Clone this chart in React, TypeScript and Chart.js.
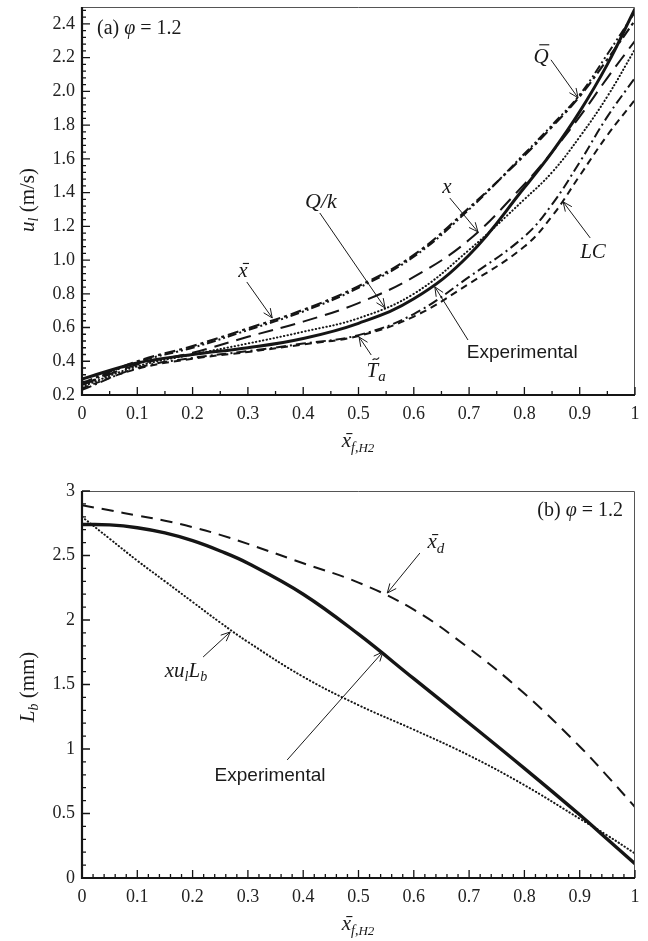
import React, { useEffect, useRef } from 'react';
import { Chart, registerables } from 'chart.js';

Chart.register(...registerables);

// ---------------- data ----------------
// Panel (a): laminar burning velocity u_l (m/s) vs mean H2 fuel fraction
const X_TOP = [0, 0.1, 0.2, 0.3, 0.4, 0.5, 0.6, 0.7, 0.8, 0.85, 0.9, 0.95, 1.0];
const UL_EXPERIMENTAL = [0.295, 0.39, 0.44, 0.48, 0.535, 0.625, 0.77, 1.03, 1.43, 1.64, 1.88, 2.16, 2.49];
const UL_XBAR = [0.27, 0.40, 0.49, 0.595, 0.705, 0.845, 1.03, 1.31, 1.62, 1.79, 1.97, 2.19, 2.42];
const UL_QBAR = [0.26, 0.395, 0.48, 0.585, 0.695, 0.835, 1.02, 1.30, 1.63, 1.80, 1.98, 2.22, 2.47];
const UL_X = [0.26, 0.38, 0.45, 0.545, 0.635, 0.745, 0.90, 1.12, 1.45, 1.64, 1.85, 2.08, 2.30];
const UL_QK = [0.25, 0.37, 0.44, 0.505, 0.575, 0.655, 0.80, 1.06, 1.36, 1.52, 1.73, 1.97, 2.25];
const UL_TA = [0.23, 0.36, 0.42, 0.46, 0.505, 0.555, 0.68, 0.90, 1.14, 1.33, 1.58, 1.85, 2.08];
const UL_LC = [0.24, 0.355, 0.415, 0.455, 0.50, 0.55, 0.665, 0.86, 1.08, 1.26, 1.50, 1.74, 1.95];

// Panel (b): Markstein length L_b (mm)
const X_BOTTOM = [0, 0.05, 0.1, 0.15, 0.2, 0.25, 0.3, 0.4, 0.5, 0.6, 0.7, 0.8, 0.9, 0.95, 1.0];
const LB_EXPERIMENTAL = [2.74, 2.737, 2.715, 2.675, 2.615, 2.535, 2.44, 2.20, 1.89, 1.545, 1.20, 0.85, 0.49, 0.30, 0.11];
const LB_XD = [2.89, 2.85, 2.81, 2.77, 2.72, 2.66, 2.59, 2.44, 2.29, 2.08, 1.78, 1.43, 1.02, 0.79, 0.55];
const LB_XULB = [2.80, 2.63, 2.46, 2.30, 2.14, 1.98, 1.83, 1.56, 1.34, 1.15, 0.95, 0.72, 0.46, 0.33, 0.19];

// tick labels
const X_TICK_LABELS = ['0', '0.1', '0.2', '0.3', '0.4', '0.5', '0.6', '0.7', '0.8', '0.9', '1'];
const Y_TOP_TICK_LABELS = ['0.2', '0.4', '0.6', '0.8', '1.0', '1.2', '1.4', '1.6', '1.8', '2.0', '2.2', '2.4'];
const Y_BOTTOM_TICK_LABELS = ['0', '0.5', '1', '1.5', '2', '2.5', '3'];

// ---------------- helpers ----------------
const SERIF = '"Liberation Serif", "Times New Roman", Times, serif';
const SANS = '"Liberation Sans", Arial, Helvetica, sans-serif';
const INK = '#151515';

type Seg = { t: string; it?: boolean; s: number; dy?: number; bar?: number; tilde?: number; sans?: boolean };
type Label = { x: number; y: number; segs: Seg[]; align?: 'left' | 'center' | 'right' };
type Arrow = { x1: number; y1: number; x2: number; y2: number };

function fontOf(g: Seg) {
  return `${g.it ? 'italic ' : ''}${g.s}px ${g.sans ? SANS : SERIF}`;
}

function drawSegs(ctx: CanvasRenderingContext2D, segs: Seg[], x: number, y: number, align: 'left' | 'center' | 'right') {
  ctx.save();
  ctx.textBaseline = 'alphabetic';
  ctx.textAlign = 'left';
  ctx.fillStyle = '#1a1a1a';
  ctx.strokeStyle = '#1a1a1a';
  const ws = segs.map((g) => {
    ctx.font = fontOf(g);
    return ctx.measureText(g.t).width;
  });
  const total = ws.reduce((a, b) => a + b, 0);
  let cx = align === 'center' ? x - total / 2 : align === 'right' ? x - total : x;
  segs.forEach((g, i) => {
    ctx.font = fontOf(g);
    const by = y + (g.dy || 0);
    ctx.fillText(g.t, cx, by);
    const w = ws[i];
    const sk = g.it ? g.s * 0.12 : 0;
    if (g.bar) {
      const h = by - g.s * g.bar;
      ctx.lineWidth = Math.max(1, g.s * 0.055);
      ctx.beginPath();
      ctx.moveTo(cx + w * 0.22 + sk, h);
      ctx.lineTo(cx + w * 0.88 + sk, h);
      ctx.stroke();
    }
    if (g.tilde) {
      const ty = by - g.s * g.tilde;
      const tx0 = cx + w * 0.3 + sk;
      const tw = w * 0.55;
      ctx.lineWidth = 1.2;
      ctx.beginPath();
      ctx.moveTo(tx0, ty + 1.2);
      ctx.bezierCurveTo(tx0 + tw * 0.3, ty - 2.6, tx0 + tw * 0.6, ty + 3.2, tx0 + tw, ty - 1.4);
      ctx.stroke();
    }
    cx += w;
  });
  ctx.restore();
}

function drawArrow(ctx: CanvasRenderingContext2D, x1: number, y1: number, x2: number, y2: number) {
  const ang = Math.atan2(y2 - y1, x2 - x1);
  const L = 10;
  const sp = 0.42;
  ctx.save();
  ctx.strokeStyle = '#1a1a1a';
  ctx.lineWidth = 1;
  ctx.beginPath();
  ctx.moveTo(x1, y1);
  ctx.lineTo(x2, y2);
  ctx.moveTo(x2 - L * Math.cos(ang - sp), y2 - L * Math.sin(ang - sp));
  ctx.lineTo(x2, y2);
  ctx.lineTo(x2 - L * Math.cos(ang + sp), y2 - L * Math.sin(ang + sp));
  ctx.stroke();
  ctx.restore();
}

type Decor = {
  xMinor: number;
  xMajor: number;
  yMinor: number;
  yMajor: number;
  labels: Label[];
  arrows: Arrow[];
  panel: { segs: Seg[]; dx: number; dy: number; align: 'left' | 'right' };
  yTitle: { segs: Seg[]; cx: number; cy: number };
  xTitle: { segs: Seg[]; cx: number; by: number };
};

function makeDecor(spec: Decor) {
  return {
    id: 'decor',
    afterDatasetsDraw(chart: any) {
      const ctx: CanvasRenderingContext2D = chart.ctx;
      const a = chart.chartArea;
      const xs = chart.scales.x;
      const ys = chart.scales.y;
      ctx.save();
      // thin top/right frame
      ctx.strokeStyle = '#555';
      ctx.lineWidth = 1;
      ctx.beginPath();
      ctx.moveTo(a.left, a.top + 0.5);
      ctx.lineTo(a.right - 0.5, a.top + 0.5);
      ctx.lineTo(a.right - 0.5, a.bottom);
      ctx.stroke();

      // inward ticks
      ctx.strokeStyle = INK;
      ctx.lineWidth = 1.3;
      ctx.beginPath();
      const nx = Math.floor((xs.max - xs.min) / spec.xMinor + 1e-6);
      const xr = Math.round(spec.xMajor / spec.xMinor);
      for (let i = 0; i <= nx; i++) {
        const v = xs.min + i * spec.xMinor;
        const px = xs.getPixelForValue(v);
        const len = i % xr === 0 ? 8 : 4;
        ctx.moveTo(px, a.bottom);
        ctx.lineTo(px, a.bottom - len);
      }
      const ny = Math.floor((ys.max - ys.min) / spec.yMinor + 1e-6);
      for (let i = 0; i <= ny; i++) {
        const v = ys.min + i * spec.yMinor;
        const q = v / spec.yMajor;
        const major = Math.abs(q - Math.round(q)) < 1e-6;
        const py = ys.getPixelForValue(v);
        ctx.moveTo(a.left, py);
        ctx.lineTo(a.left + (major ? 8 : 4), py);
      }
      ctx.stroke();

      // thick left & bottom axes
      ctx.lineWidth = 2.2;
      ctx.beginPath();
      ctx.moveTo(a.left, a.top);
      ctx.lineTo(a.left, a.bottom);
      ctx.lineTo(a.right, a.bottom);
      ctx.stroke();
      ctx.restore();

      // annotation arrows & labels (data coordinates)
      spec.arrows.forEach((r) => {
        drawArrow(ctx, xs.getPixelForValue(r.x1), ys.getPixelForValue(r.y1), xs.getPixelForValue(r.x2), ys.getPixelForValue(r.y2));
      });
      spec.labels.forEach((l) => {
        drawSegs(ctx, l.segs, xs.getPixelForValue(l.x), ys.getPixelForValue(l.y), l.align || 'center');
      });

      // panel label
      const p = spec.panel;
      drawSegs(ctx, p.segs, p.align === 'left' ? a.left + p.dx : a.right - p.dx, a.top + p.dy, p.align);

      // axis titles
      ctx.save();
      ctx.translate(spec.yTitle.cx, spec.yTitle.cy);
      ctx.rotate(-Math.PI / 2);
      drawSegs(ctx, spec.yTitle.segs, 0, 5.4, 'center');
      ctx.restore();
      drawSegs(ctx, spec.xTitle.segs, spec.xTitle.cx, spec.xTitle.by, 'center');
    },
  };
}

const pts = (xs: number[], ys: number[]) => xs.map((x, i) => ({ x, y: ys[i] }));

function line(data: any[], width: number, dash: number[], cap: 'butt' | 'round' = 'butt') {
  return {
    data,
    borderColor: INK,
    borderWidth: width,
    borderDash: dash,
    borderCapStyle: cap,
    pointRadius: 0,
    fill: false,
    tension: 0.4,
  };
}

function makeConfig(datasets: any[], yMin: number, yMax: number, yStep: number, yLabels: string[], padTop: number, xAxisH: number, decor: any) {
  const tickFont = { family: SERIF, size: 18 };
  return {
    type: 'line',
    data: { datasets },
    options: {
      responsive: false,
      animation: false,
      events: [],
      layout: { padding: { left: 0, right: 13, top: padTop, bottom: 0 } },
      plugins: { legend: { display: false }, tooltip: { enabled: false } },
      scales: {
        x: {
          type: 'linear',
          min: 0,
          max: 1,
          grid: { display: false, drawTicks: false },
          border: { display: false },
          ticks: {
            stepSize: 0.1,
            padding: 8,
            color: '#222',
            font: tickFont,
            autoSkip: false,
            maxRotation: 0,
            includeBounds: false,
            callback: (_v: any, i: number) => X_TICK_LABELS[i],
          },
          afterFit: (s: any) => {
            s.height = xAxisH;
            s.paddingLeft = 0;
            s.paddingRight = 0;
          },
        },
        y: {
          type: 'linear',
          min: yMin,
          max: yMax,
          grid: { display: false, drawTicks: false },
          border: { display: false },
          ticks: {
            stepSize: yStep,
            padding: 7,
            color: '#222',
            font: tickFont,
            autoSkip: false,
            includeBounds: false,
            callback: (_v: any, i: number) => yLabels[i],
          },
          afterFit: (s: any) => {
            s.width = 82;
            s.paddingTop = 0;
            s.paddingBottom = 0;
          },
        },
      },
    },
    plugins: [decor],
  };
}

export default function App() {
  const topRef = useRef<HTMLCanvasElement>(null);
  const botRef = useRef<HTMLCanvasElement>(null);

  useEffect(() => {
    const topDecor = makeDecor({
      xMinor: 0.05,
      xMajor: 0.1,
      yMinor: 0.04,
      yMajor: 0.2,
      labels: [
        { x: 0.291, y: 0.90, segs: [{ t: 'x', it: true, s: 21, bar: 0.64 }] },
        { x: 0.432, y: 1.309, segs: [{ t: 'Q/k', it: true, s: 22 }] },
        { x: 0.660, y: 1.398, segs: [{ t: 'x', it: true, s: 21 }] },
        { x: 0.830, y: 2.169, segs: [{ t: 'Q', it: true, s: 21, bar: 0.86 }] },
        { x: 0.924, y: 1.013, segs: [{ t: 'LC', it: true, s: 21 }] },
        { x: 0.796, y: 0.419, segs: [{ t: 'Experimental', sans: true, s: 19 }] },
        { x: 0.532, y: 0.307, segs: [{ t: 'T', it: true, s: 21, tilde: 0.86 }, { t: 'a', it: true, s: 15, dy: 4 }] },
      ],
      arrows: [
        { x1: 0.298, y1: 0.870, x2: 0.344, y2: 0.657 },
        { x1: 0.430, y1: 1.279, x2: 0.548, y2: 0.716 },
        { x1: 0.665, y1: 1.368, x2: 0.716, y2: 1.167 },
        { x1: 0.848, y1: 2.187, x2: 0.897, y2: 1.962 },
        { x1: 0.919, y1: 1.131, x2: 0.870, y2: 1.345 },
        { x1: 0.698, y1: 0.526, x2: 0.638, y2: 0.841 },
        { x1: 0.523, y1: 0.437, x2: 0.501, y2: 0.544 },
      ],
      panel: {
        segs: [{ t: '(a) ', s: 20 }, { t: 'φ', it: true, s: 20 }, { t: ' = 1.2', s: 20 }],
        dx: 15,
        dy: 27,
        align: 'left',
      },
      yTitle: { segs: [{ t: 'u', it: true, s: 21 }, { t: 'l', it: true, s: 14, dy: 4 }, { t: ' (m/s)', s: 21 }], cx: 28.5, cy: 200 },
      xTitle: { segs: [{ t: 'x', it: true, s: 21, bar: 0.64 }, { t: 'f', it: true, s: 14, dy: 5 }, { t: ',', s: 14, dy: 5 }, { t: 'H2', it: true, s: 13, dy: 5 }], cx: 358, by: 447 },
    });

    const botDecor = makeDecor({
      xMinor: 0.02,
      xMajor: 0.1,
      yMinor: 0.1,
      yMajor: 0.5,
      labels: [
        { x: 0.640, y: 2.558, segs: [{ t: 'x', it: true, s: 21, bar: 0.64 }, { t: 'd', it: true, s: 15, dy: 5 }] },
        { x: 0.188, y: 1.558, segs: [{ t: 'xu', it: true, s: 21 }, { t: 'l', it: true, s: 14, dy: 4 }, { t: 'L', it: true, s: 21 }, { t: 'b', it: true, s: 14, dy: 4 }] },
        { x: 0.340, y: 0.752, segs: [{ t: 'Experimental', sans: true, s: 19 }] },
      ],
      arrows: [
        { x1: 0.611, y1: 2.519, x2: 0.552, y2: 2.209 },
        { x1: 0.219, y1: 1.713, x2: 0.268, y2: 1.907 },
        { x1: 0.371, y1: 0.915, x2: 0.544, y2: 1.752 },
      ],
      panel: {
        segs: [{ t: '(b) ', s: 20 }, { t: 'φ', it: true, s: 20 }, { t: ' = 1.2', s: 20 }],
        dx: 12,
        dy: 25,
        align: 'right',
      },
      yTitle: { segs: [{ t: 'L', it: true, s: 21 }, { t: 'b', it: true, s: 14, dy: 4 }, { t: ' (mm)', s: 21 }], cx: 28.5, cy: 227 },
      xTitle: { segs: [{ t: 'x', it: true, s: 21, bar: 0.64 }, { t: 'f', it: true, s: 14, dy: 5 }, { t: ',', s: 14, dy: 5 }, { t: 'H2', it: true, s: 13, dy: 5 }], cx: 358, by: 470 },
    });

    const topSets = [
      line(pts(X_TOP, UL_LC), 2, [7, 5]),
      line(pts(X_TOP, UL_TA), 2, [10, 4, 2, 4]),
      line(pts(X_TOP, UL_QK), 2, [0.4, 3.2], 'round'),
      line(pts(X_TOP, UL_X), 2, [15, 8]),
      line(pts(X_TOP, UL_QBAR), 2, [9, 3, 2, 3, 2, 3]),
      line(pts(X_TOP, UL_XBAR), 2.2, [11, 4, 3, 4]),
      line(pts(X_TOP, UL_EXPERIMENTAL), 3, []),
    ];
    const botSets = [
      line(pts(X_BOTTOM, LB_XULB), 2, [0.4, 3.2], 'round'),
      line(pts(X_BOTTOM, LB_XD), 2, [12, 8]),
      line(pts(X_BOTTOM, LB_EXPERIMENTAL), 3.4, []),
    ];

    const c1 = new Chart(topRef.current as HTMLCanvasElement, makeConfig(topSets, 0.2, 2.5, 0.2, Y_TOP_TICK_LABELS, 7, 65, topDecor) as any);
    const c2 = new Chart(botRef.current as HTMLCanvasElement, makeConfig(botSets, 0, 3, 0.5, Y_BOTTOM_TICK_LABELS, 31, 63, botDecor) as any);
    return () => {
      c1.destroy();
      c2.destroy();
    };
  }, []);

  return (
    <div style={{ position: 'absolute', left: 0, top: 0, width: 648, height: 941, background: '#fff' }}>
      <canvas ref={topRef} width={648} height={460} style={{ position: 'absolute', left: 0, top: 0, width: 648, height: 460 }} />
      <canvas ref={botRef} width={648} height={481} style={{ position: 'absolute', left: 0, top: 460, width: 648, height: 481 }} />
    </div>
  );
}
